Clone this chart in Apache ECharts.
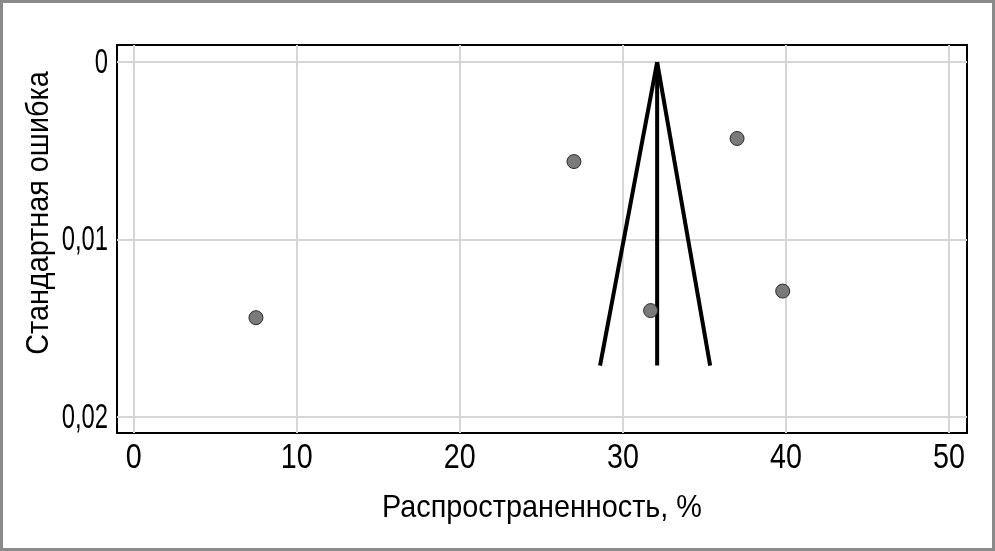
<!DOCTYPE html>
<html>
<head>
<meta charset="utf-8">
<script src="https://cdn.jsdelivr.net/npm/echarts@6/dist/echarts.min.js"></script>
<style>
html,body{margin:0;padding:0;background:#fff;}
#c{width:995px;height:551px;}
</style>
</head>
<body>
<div id="c"></div>
<script>
// Study points: prevalence (%) and standard error
var prevalence = [7.5, 27.0, 37.0, 31.7, 39.8];
var stdError = [0.0144, 0.0056, 0.0043, 0.0140, 0.0129];
// Funnel: pooled estimate and limits at the bottom
var pooled = 32.1;
var funnelSE = [0, 0.0171];
var funnelLeft = [32.1, 28.6];
var funnelRight = [32.1, 35.35];
var xTicks = [0, 10, 20, 30, 40, 50];
var yTicks = [0, 0.01, 0.02];
var yTickLabels = ['0', '0,01', '0,02'];
var xTitle = 'Распространенность, %';
var yTitle = 'Стандартная ошибка';

var FONT = '"Liberation Sans",Arial,sans-serif';
var GL = 117, GR = 28, GT = 45, GB = 118, W = 995, H = 551;

var pts = prevalence.map(function(v,i){return [v, stdError[i]];});
var leftLine = funnelSE.map(function(s,i){return [funnelLeft[i], s];});
var rightLine = funnelSE.map(function(s,i){return [funnelRight[i], s];});
var midLine = funnelSE.map(function(s){return [pooled, s];});

var chart = echarts.init(document.getElementById('c'), null, {renderer:'canvas'});
var lineStyle = {color:'#000', width:4};
var border = {id:'border', type:'rect', shape:{x:1.5,y:1.5,width:992,height:548}, style:{fill:'none', stroke:'#8a8a8a', lineWidth:3}, z:100};
chart.setOption({
  animation:false,
  backgroundColor:'#fff',
  graphic:[border],
  grid:{left:GL, right:GR, top:GT, bottom:GB, outerBoundsMode:'none', containLabel:false,
        show:true, borderColor:'#000', borderWidth:2, backgroundColor:'transparent'},
  xAxis:{
    type:'value', min:-1.02, max:51.1,
    axisLine:{show:false},
    axisTick:{show:true, length:4, lineStyle:{color:'#cfcfcf'}, customValues:xTicks},
    axisLabel:{show:false, customValues:xTicks},
    splitLine:{show:true, lineStyle:{color:'#d6d6d6', width:2}}
  },
  yAxis:{
    type:'value', inverse:true, min:-0.00097, max:0.0209,
    axisLine:{show:false},
    axisTick:{show:true, length:4, lineStyle:{color:'#cfcfcf'}, customValues:yTicks},
    axisLabel:{show:false, customValues:yTicks},
    splitLine:{show:true, lineStyle:{color:'#d6d6d6', width:2}}
  },
  series:[
    {type:'line', data:leftLine, showSymbol:false, lineStyle:lineStyle, z:3},
    {type:'line', data:rightLine, showSymbol:false, lineStyle:lineStyle, z:3},
    {type:'line', data:midLine, showSymbol:false, lineStyle:lineStyle, z:3},
    {type:'scatter', data:pts, symbol:'circle', symbolSize:14,
      itemStyle:{color:'#7a7a7a', borderColor:'#2a2a2a', borderWidth:1, opacity:1}, z:5}
  ]
});

// Condensed tick labels and titles, placed from the axis scales
var g = [border];
var tickFont = {fontFamily:FONT, fontSize:35, fill:'#000'};
xTicks.forEach(function(v){
  var px = chart.convertToPixel({xAxisIndex:0}, v);
  g.push({type:'text', x:px, y:458, scaleX:0.82,
    style:Object.assign({text:String(v), align:'center', verticalAlign:'middle'}, tickFont)});
});
yTicks.forEach(function(v,i){
  var py = chart.convertToPixel({yAxisIndex:0}, v);
  g.push({type:'text', x:108, y:py+1, scaleX:0.68,
    style:Object.assign({text:yTickLabels[i], align:'right', verticalAlign:'middle'}, tickFont)});
});
g.push({type:'text', x:(GL + (W - GR))/2, y:508, scaleX:0.9,
  style:{text:xTitle, align:'center', verticalAlign:'middle', fontFamily:FONT, fontSize:32, fill:'#000'}});
g.push({type:'text', x:39, y:213, rotation:Math.PI/2, scaleX:0.9,
  style:{text:yTitle, align:'center', verticalAlign:'middle', fontFamily:FONT, fontSize:32, fill:'#000'}});
chart.setOption({graphic:g}, {replaceMerge:['graphic']});
</script>
</body>
</html>
